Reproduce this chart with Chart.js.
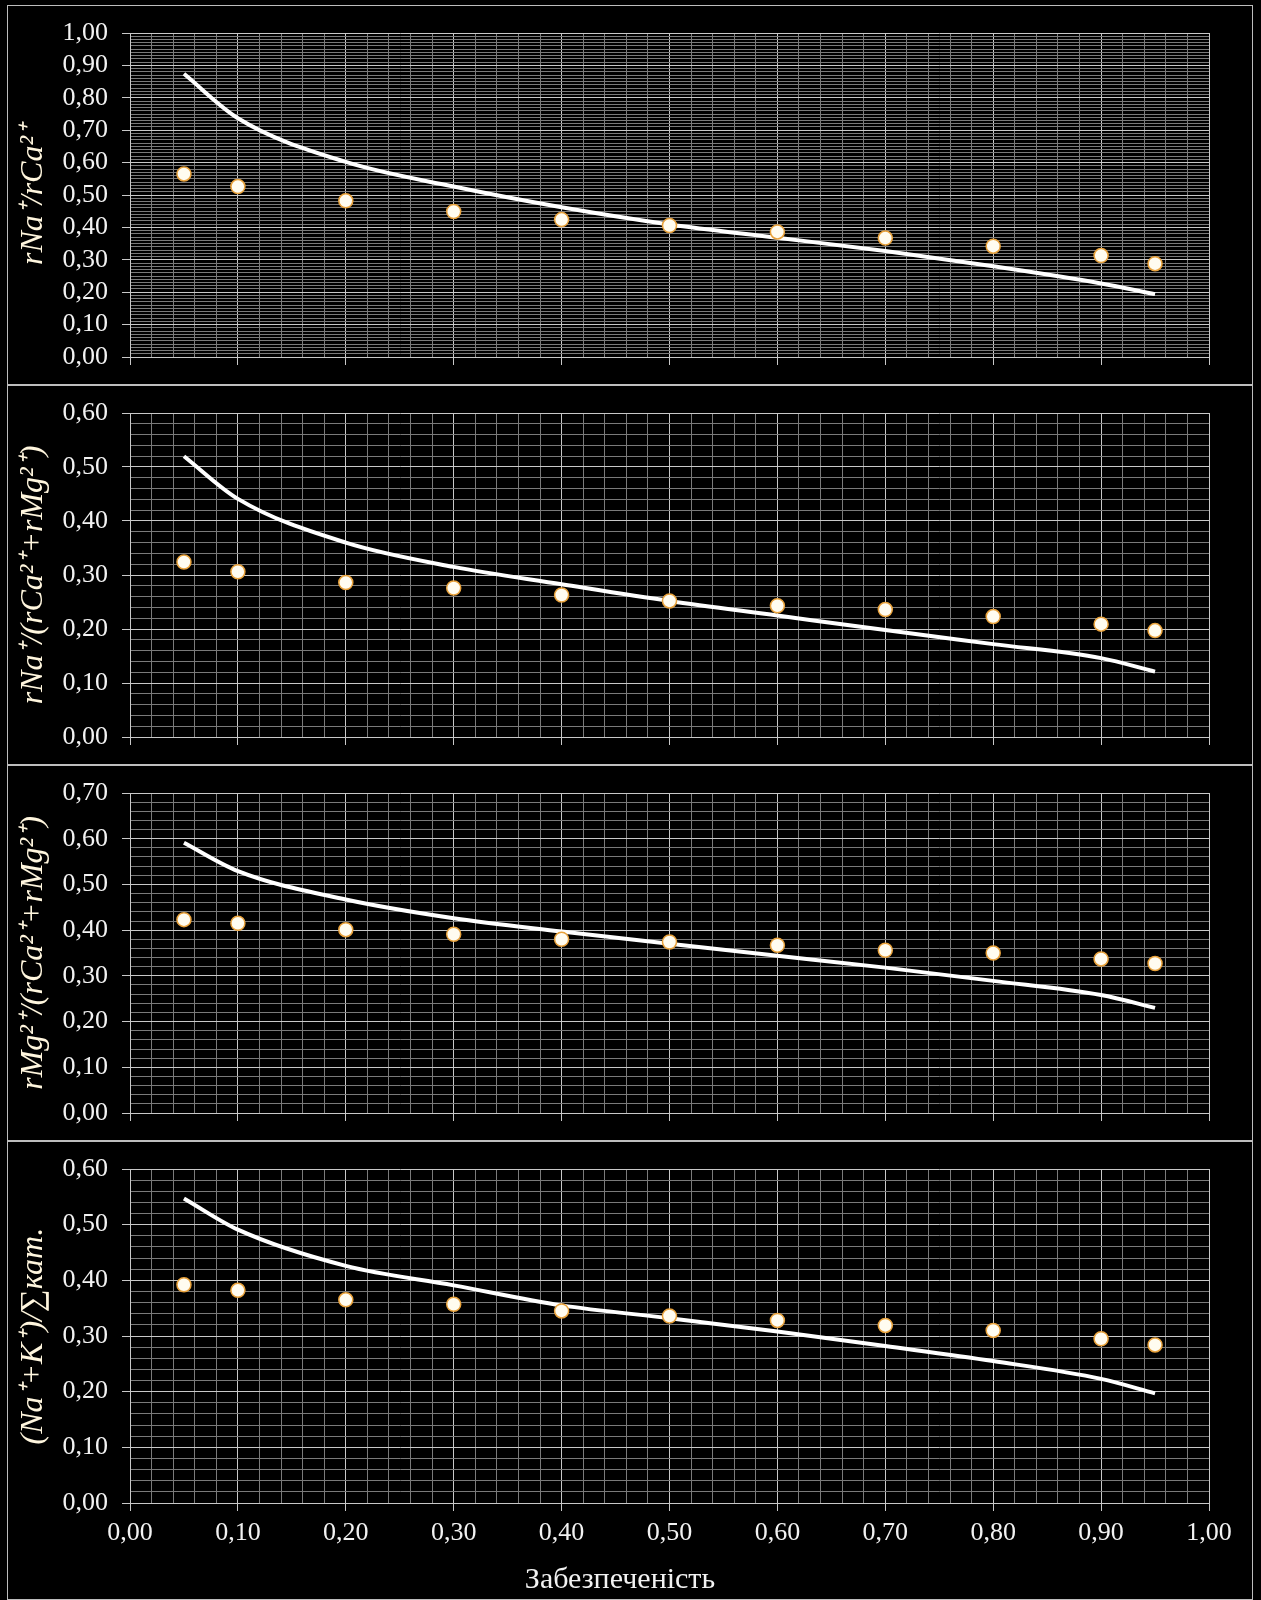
<!DOCTYPE html>
<html>
<head>
<meta charset="utf-8">
<script src="https://cdn.jsdelivr.net/npm/chart.js@4.4.1/dist/chart.umd.min.js"></script>
<style>
  body { margin: 0; background: #000; }
  #page { position: relative; width: 1261px; height: 1600px; background: #000; overflow: hidden; }
  .panel { position: absolute; left: 7px; width: 1244px; border: 1px solid #bdbdbd; }
  .panel canvas { display: block; }
</style>
</head>
<body>
<div id="page">
  <div class="panel" style="top:5px;height:378px"><canvas id="chart_na_ca" width="1244" height="378"></canvas></div>
  <div class="panel" style="top:385px;height:378px"><canvas id="chart_na_camg" width="1244" height="378"></canvas></div>
  <div class="panel" style="top:765px;height:374px"><canvas id="chart_mg_camg" width="1244" height="374"></canvas></div>
  <div class="panel" style="top:1141px;height:457px"><canvas id="chart_alkali" width="1244" height="457"></canvas></div>
</div>
<script>
// probability of exceedance (x) shared by all four panels
var probability = [0.05, 0.10, 0.20, 0.30, 0.40, 0.50, 0.60, 0.70, 0.80, 0.90, 0.95];

// rNa+/rCa2+
var naCaObserved = [0.565, 0.526, 0.482, 0.449, 0.424, 0.406, 0.386, 0.367, 0.342, 0.313, 0.288];
var naCaCurve    = [0.874, 0.737, 0.602, 0.526, 0.462, 0.409, 0.368, 0.327, 0.280, 0.227, 0.194];

// rNa+/(rCa2+ + rMg2+)
var naCaMgObserved = [0.324, 0.306, 0.286, 0.276, 0.263, 0.252, 0.243, 0.236, 0.223, 0.209, 0.197];
var naCaMgCurve    = [0.520, 0.441, 0.360, 0.315, 0.283, 0.252, 0.225, 0.198, 0.172, 0.146, 0.121];

// rMg2+/(rCa2+ + rMg2+)
var mgCaMgObserved = [0.423, 0.415, 0.401, 0.391, 0.380, 0.374, 0.367, 0.356, 0.350, 0.337, 0.327];
var mgCaMgCurve    = [0.591, 0.529, 0.467, 0.426, 0.397, 0.370, 0.344, 0.318, 0.289, 0.258, 0.230];

// (Na+ + K+)/sum of cations
var alkaliObserved = [0.392, 0.382, 0.365, 0.357, 0.345, 0.336, 0.328, 0.319, 0.310, 0.295, 0.284];
var alkaliCurve    = [0.547, 0.491, 0.426, 0.391, 0.355, 0.332, 0.308, 0.282, 0.255, 0.223, 0.197];

var yMaxima = [1.0, 0.6, 0.7, 0.6];
var yMinorSteps = [0.01, 0.02, 0.02, 0.02];
var yTitles = ['rNa\u207A/rCa\u00B2\u207A',
               'rNa\u207A/(rCa\u00B2\u207A+rMg\u00B2\u207A)',
               'rMg\u00B2\u207A/(rCa\u00B2\u207A+rMg\u00B2\u207A)',
               '(Na\u207A+K\u207A)/\u2211кат.'];
var xTitle = 'Забезпеченість';
var xMinorStep = 0.02;

var isMajor = function(v) {
  return Math.abs(v * 10 - Math.round(v * 10)) < 1e-6;
};
var commaLabel = function(v) {
  return isMajor(v) ? v.toFixed(2).replace('.', ',') : '';
};
var gridColor = function(ctx) {
  return ctx.tick && isMajor(ctx.tick.value) ? '#c8c8c8' : '#7a7a7a';
};
var tickMarkColor = function(ctx) {
  return ctx.tick && isMajor(ctx.tick.value) ? '#c8c8c8' : 'rgba(0,0,0,0)';
};
var toPoints = function(ys) {
  return probability.map(function(x, i) { return { x: x, y: ys[i] }; });
};

var makePanel = function(canvasId, yMax, yStep, yTitle, observed, curve, padTop, xAxisHeight, isBottom) {
  return new Chart(document.getElementById(canvasId).getContext('2d'), {
    type: 'scatter',
    data: {
      datasets: [
        {
          data: toPoints(observed),
          showLine: false,
          pointRadius: 7,
          pointBackgroundColor: '#fffcf0',
          pointBorderColor: '#e9a23b',
          pointBorderWidth: 1.5,
          order: 0
        },
        {
          data: toPoints(curve),
          showLine: true,
          fill: false,
          borderColor: '#ffffff',
          borderWidth: 4,
          pointRadius: 0,
          cubicInterpolationMode: 'monotone',
          order: 1
        }
      ]
    },
    options: {
      responsive: false,
      animation: false,
      devicePixelRatio: 1,
      layout: { padding: { top: padTop, right: 43, bottom: 0, left: 23 } },
      plugins: {
        legend: { display: false },
        tooltip: { enabled: false },
        title: {
          display: isBottom,
          position: 'bottom',
          text: xTitle,
          color: '#f2f2f2',
          font: { family: 'Liberation Serif', size: 30, weight: 'normal', lineHeight: 1.2 },
          padding: { top: 4, bottom: 1 }
        }
      },
      scales: {
        x: {
          type: 'linear',
          min: 0,
          max: 1,
          ticks: {
            stepSize: xMinorStep,
            autoSkip: false,
            maxRotation: 0,
            display: isBottom,
            callback: commaLabel,
            color: '#f2f2f2',
            padding: 9,
            font: { family: 'Liberation Serif', size: 26, lineHeight: 1 }
          },
          grid: { color: gridColor, tickColor: tickMarkColor, tickLength: 8, lineWidth: 1 },
          border: { color: '#c8c8c8' },
          afterFit: function(scale) { scale.height = xAxisHeight; }
        },
        y: {
          type: 'linear',
          min: 0,
          max: yMax,
          ticks: {
            stepSize: yStep,
            autoSkip: false,
            callback: commaLabel,
            color: '#f2f2f2',
            padding: 14,
            font: { family: 'Liberation Serif', size: 26, lineHeight: 1 }
          },
          grid: { color: gridColor, tickColor: tickMarkColor, tickLength: 8, lineWidth: 1 },
          border: { color: '#c8c8c8' },
          title: {
            display: true,
            text: yTitle,
            color: '#fff6de',
            font: { family: 'Liberation Serif', style: 'italic', size: 32, lineHeight: 1.2 },
            padding: { top: -17, bottom: 0 }
          },
          afterFit: function(scale) { scale.width = 99; }
        }
      }
    }
  });
};

makePanel('chart_na_ca',   yMaxima[0], yMinorSteps[0], yTitles[0], naCaObserved,   naCaCurve,   22, 16, false);
makePanel('chart_na_camg', yMaxima[1], yMinorSteps[1], yTitles[1], naCaMgObserved, naCaMgCurve, 21, 17, false);
makePanel('chart_mg_camg', yMaxima[2], yMinorSteps[2], yTitles[2], mgCaMgObserved, mgCaMgCurve, 21, 13, false);
makePanel('chart_alkali',  yMaxima[3], yMinorSteps[3], yTitles[3], alkaliObserved, alkaliCurve, 21, 55, true);
</script>
</body>
</html>
